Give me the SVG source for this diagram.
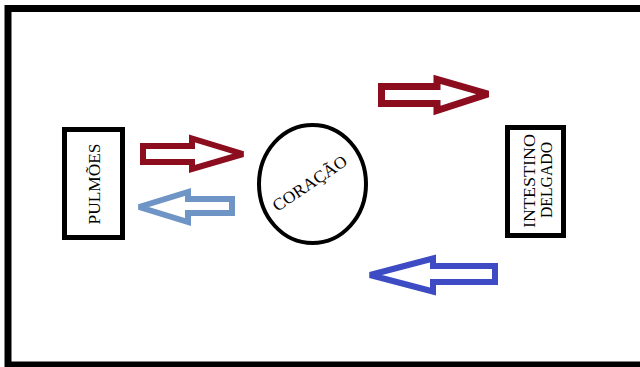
<svg xmlns="http://www.w3.org/2000/svg" width="640" height="367" viewBox="0 0 640 367">
<style>
.box{fill:#fff;stroke:#000;stroke-width:5}
.lbl{font-family:"Liberation Serif","DejaVu Serif",serif;fill:#000}
.arr{fill:#fff;stroke-linejoin:miter;stroke-miterlimit:2.2}
.red{stroke:#8b0d1e}
.lblue{stroke:#6f94c6}
.blue{stroke:#3d4cc4}
</style>
<rect width="640" height="367" fill="#fff"/>
<rect x="8" y="8.5" width="700" height="356.5" fill="none" stroke="#000" stroke-width="7"/>
<g id="pulmoes">
<rect class="box" x="64.5" y="129.5" width="58" height="108"/>
<text class="lbl" font-size="16" transform="translate(100,184) rotate(-90)" text-anchor="middle" textLength="81" lengthAdjust="spacingAndGlyphs">PULMÕES</text>
</g>
<g id="coracao">
<ellipse cx="312.5" cy="184" rx="53.5" ry="59" fill="#fff" stroke="#000" stroke-width="4"/>
<text class="lbl" font-size="17" transform="translate(313,188) rotate(-34)" text-anchor="middle" textLength="86" lengthAdjust="spacingAndGlyphs">CORAÇÃO</text>
</g>
<g id="intestino">
<rect class="box" x="507.5" y="127.5" width="56" height="108"/>
<text class="lbl" font-size="17" transform="translate(535,181) rotate(-90)" text-anchor="middle" textLength="94" lengthAdjust="spacingAndGlyphs">INTESTINO</text>
<text class="lbl" font-size="17" transform="translate(552,180) rotate(-90)" text-anchor="middle" textLength="76" lengthAdjust="spacingAndGlyphs">DELGADO</text>
</g>
<g id="connectors">
<polygon class="arr red" stroke-width="6" points="143,146 192,146 192,138.5 243,154 192,169 192,162 143,162"/>
<polygon class="arr lblue" stroke-width="6" points="232,199 188,199 188,192 139,207 188,222 188,213 232,213"/>
<polygon class="arr red" stroke-width="7" points="381.5,86.5 437,86.5 437,79.5 488,94 437,110.5 437,103.5 381.5,103.5"/>
<polygon class="arr blue" stroke-width="6" points="495,266 433,266 433,258.5 370,275 433,291.5 433,282 495,282"/>
</g>
</svg>
